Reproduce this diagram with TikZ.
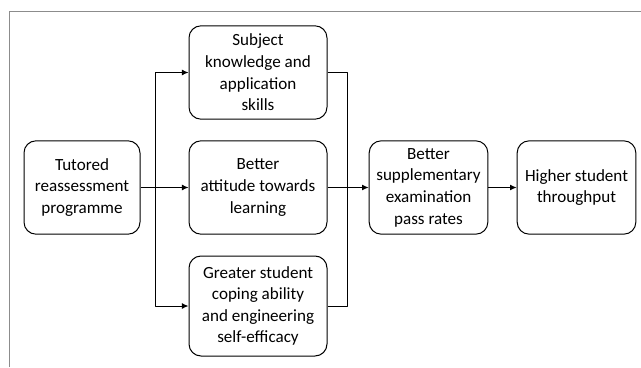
\documentclass[tikz,border=0pt]{standalone}
\usepackage{fontspec}
\setmainfont{Carlito}
\usetikzlibrary{arrows.meta}
\begin{document}
\begin{tikzpicture}[x=0.75pt,y=-0.75pt,line join=round,line width=.75pt,
  font=\fontsize{12.8}{16.2}\selectfont,
  box/.style={draw,rounded corners=9pt,align=center,inner sep=2pt,
    minimum width=103.5pt,minimum height=70pt},
  arr/.style={-{Latex[length=5pt,width=4.5pt]}}]
			\useasboundingbox (0,0) rectangle (641,367);
			\draw[gray!90,line width=.6pt] (9,367)--(9,11)--(641,11);
			\node[box,minimum width=87pt] (tut) at (82,187.5) {Tutored\\reassessment\\programme};
			\node[box] (subj) at (258,72.5) {Subject\\knowledge and\\application\\skills};
			\node[box] (att) at (258,187.5) {Better\\attitude towards\\learning};
			\node[box,minimum height=75pt] (grt) at (258,306) {Greater student\\coping ability\\and engineering\\self-efficacy};
			\node[box,minimum width=89pt] (supp) at (428.5,187.5) {Better\\supplementary\\examination\\pass rates};
			\node[box,minimum width=89pt] (high) at (576.5,187.5) {Higher student\\throughput};
			\coordinate (split) at (155.5,187.5);
			\coordinate (merge) at (347,187.5);
			\draw[arr] (tut)--(att);
			\draw[arr] (split)|-(subj);
			\draw[arr] (split)|-(grt);
			\draw (subj.east)-|(merge) (grt.east)-|(merge);
			\draw[arr] (att)--(supp);
			\draw[arr] (supp)--(high);
			\end{tikzpicture}
\end{document}
